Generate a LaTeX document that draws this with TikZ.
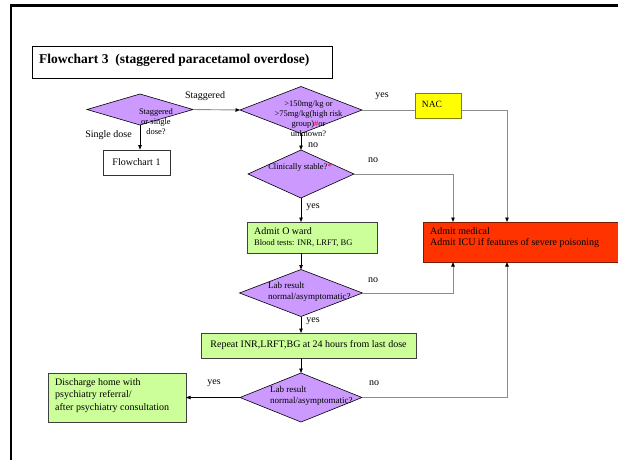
\documentclass[tikz,border=0pt]{standalone}
\usepackage{fontspec}
\setmainfont{Liberation Serif}
\usetikzlibrary{shapes.geometric,arrows.meta}
\definecolor{lav}{HTML}{CC99FF}
\definecolor{lgreen}{HTML}{CCFF99}
\definecolor{nacy}{HTML}{FFFF00}
\definecolor{nacborder}{HTML}{808000}
\definecolor{admred}{HTML}{FF3300}
\definecolor{admborder}{HTML}{7A1A00}
\definecolor{conngray}{HTML}{8C8C8C}
\begin{document}
\begin{tikzpicture}[x=1pt,y=-1pt,
  dia/.style={diamond, draw=black, line width=0.6pt, fill=lav, inner sep=0pt, outer sep=0pt},
  gbox/.style={draw=black!75, line width=0.9pt, fill=lgreen, inner sep=0pt, outer sep=0pt},
  lbl/.style={font=\fontsize{10}{12}\selectfont, inner sep=0pt},
  dtxt/.style={font=\fontsize{8.5}{10}\selectfont, inner sep=0pt, align=center},
  ltxt/.style={font=\fontsize{9}{11}\selectfont, inner sep=0pt, align=left, anchor=west},
  arr/.style={draw=black, line width=0.7pt, -{Triangle[length=4.5pt,width=3.5pt]}},
  garr/.style={draw=conngray, line width=0.9pt, -{Triangle[length=4.5pt,width=3.5pt,color=black,fill=black]}},
  gline/.style={draw=conngray, line width=0.9pt}
]
\useasboundingbox (0,0) rectangle (618,459);
\clip (0,0) rectangle (618,459);
\fill[white] (0,0) rectangle (618,459);
% outer frame
\draw[line width=2.5pt] (11,470) -- (11,5.5) -- (630,5.5);

% title
\node[draw=black, line width=0.8pt, fill=white, minimum width=300pt, minimum height=32pt, inner sep=0pt] (tbox) at (182,62) {};
\node[anchor=west, inner sep=0pt, font=\fontsize{13.5}{15}\selectfont\bfseries] (ttl) at (39,60) {Flowchart 3\ \ (staggered paracetamol overdose)};

% diamonds
\node[dia, minimum width=106pt, minimum height=31pt] (d1) at (140,109.5) {};
\node[dia, minimum width=122pt, minimum height=47pt] (d2) at (301,110) {};
\node[dia, minimum width=106pt, minimum height=48pt] (d3) at (301,174) {};
\node[dia, minimum width=123pt, minimum height=47pt] (d4) at (301,293) {};
\node[dia, minimum width=122pt, minimum height=49pt] (d5) at (301,397.5) {};

\node[dtxt] (t1) at (156,122) {Staggered\\or single\\dose?};
\node[dtxt] (t2) at (308.5,118.5) {>150mg/kg or\\>75mg/kg(high risk\\group)\textcolor{red}{\#}or\hspace{31pt}\\unknown?};
\node[dtxt] (t3) at (300,167) {Clinically stable?\textcolor{red}{*}};
\node[ltxt] (t4) at (268,291.5) {Lab result\\normal/asymptomatic?};
\node[ltxt] (t5) at (270,396) {Lab result\\normal/asymptomatic?};

% boxes
\node[draw=black!80, line width=0.8pt, fill=white, minimum width=67pt, minimum height=25pt, inner sep=0pt, font=\fontsize{10}{12}\selectfont] (f1) at (136.5,162.5) {Flowchart 1};
\node[draw=nacborder, line width=1pt, fill=nacy, minimum width=46pt, minimum height=25pt, inner sep=0pt] (nac) at (438,105.5) {};
\node[lbl, font=\fontsize{9.5}{11}\selectfont] (nact) at (432,104.5) {NAC};
\node[gbox, minimum width=130pt, minimum height=31pt] (ow) at (312,237.5) {};
\node[anchor=west, inner sep=0pt, align=left, font=\fontsize{10}{11}\selectfont] (owt) at (254,237.5) {Admit O ward\\{\fontsize{8.5}{10}\selectfont Blood tests: INR, LRFT, BG}};
\node[draw=admborder, line width=1pt, fill=admred, minimum width=207pt, minimum height=40pt, inner sep=0pt, outer sep=0pt] (adm) at (526.5,242) {};
\node[anchor=west, inner sep=0pt, align=left, font=\fontsize{10}{11}\selectfont] (admt) at (430,237.5) {Admit medical\\Admit ICU if features of severe poisoning};
\node[gbox, minimum width=215pt, minimum height=25pt, font=\fontsize{10}{12}\selectfont] (rep) at (308.5,345.5) {Repeat INR,LRFT,BG at 24 hours from last dose};
\node[gbox, minimum width=138pt, minimum height=49pt] (dis) at (117,397.5) {};
\node[anchor=west, inner sep=0pt, align=left, font=\fontsize{10}{12.5}\selectfont] (dist) at (55,395.5) {Discharge home with\\psychiatry referral/\\after psychiatry consultation};

% labels
\node[lbl] (l1) at (205,96) {Staggered};
\node[lbl] (l2) at (108.5,135) {Single dose};
\node[lbl] (l3) at (382,96) {yes};
\node[lbl] (l4) at (313,145.5) {no};
\node[lbl] (l5) at (373,160) {no};
\node[lbl] (l6) at (313,207) {yes};
\node[lbl] (l7) at (373,280) {no};
\node[lbl] (l8) at (313,321) {yes};
\node[lbl] (l9) at (214,383) {yes};
\node[lbl] (l10) at (374,383) {no};

% connectors
\coordinate (cA) at (453,0);
\coordinate (cB) at (507,0);
\draw[garr] (d1.east) -- (d2.west);
\draw[arr] (d1.south) -- (d1.south |- f1.north);
\draw[gline] (d2.east) -- (d2.east -| nac.west);
\draw[garr] (d2.east -| nac.east) -| (cB |- adm.north);
\draw[arr] (d2.south) -- (d3.north);
\draw[garr] (d3.east) -| (cA |- adm.north);
\draw[arr] (d3.south) -- (d3.south |- ow.north);
\draw[arr] (d3.south |- ow.south) -- (d4.north);
\draw[garr] (d4.east) -| (cA |- adm.south);
\draw[arr] (d4.south) -- (d4.south |- rep.north);
\draw[arr] (d4.south |- rep.south) -- (d5.north);
\draw[garr] (d5.east) -| (cB |- adm.south);
\draw[arr] (d5.west) -- (dis.east);
\end{tikzpicture}
\end{document}
